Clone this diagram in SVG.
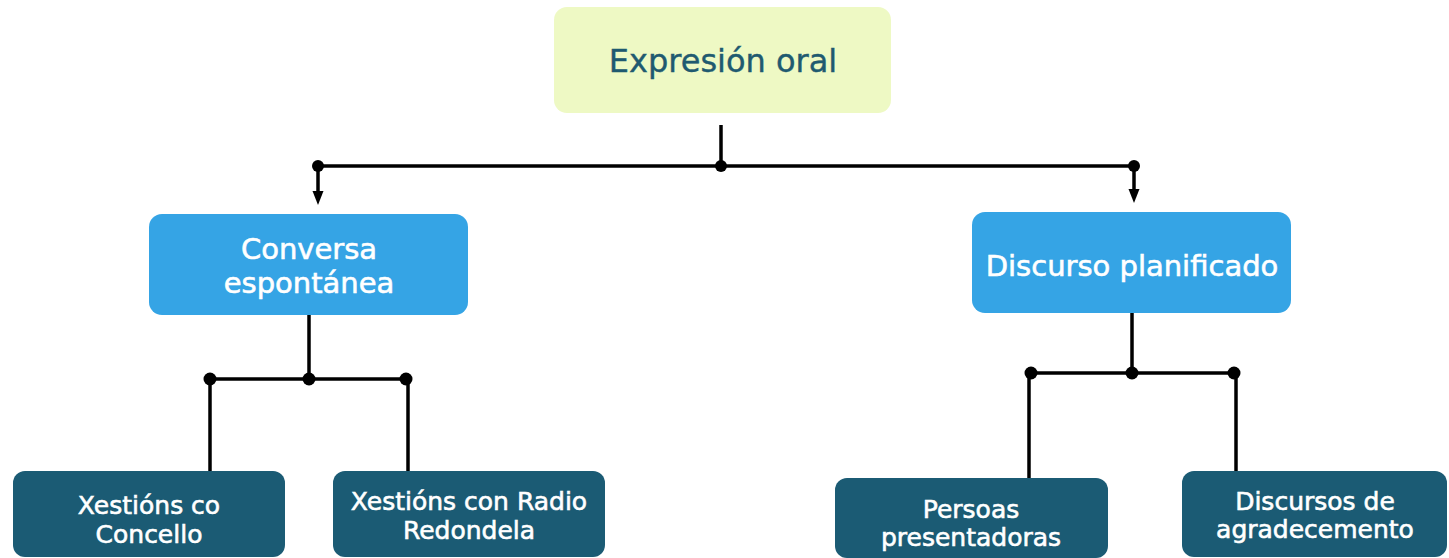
<svg xmlns="http://www.w3.org/2000/svg" width="1449" height="558" viewBox="0 0 1449 558">
<style>
.root{fill:#eef9c4}
.mid{fill:#35a4e5}
.leaf{fill:#1b5b74}
.t{font-family:"DejaVu Sans","Liberation Sans",sans-serif;text-anchor:middle}
.rt{fill:#1f5a70;stroke:#1f5a70;stroke-width:0.4;font-size:32px}
.mt{fill:#ffffff;stroke:#ffffff;stroke-width:0.6;font-size:29px}
.lt{fill:#ffffff;stroke:#ffffff;stroke-width:0.6;font-size:25px}
.ln{stroke:#000;stroke-width:3.5;fill:none}
.dot{fill:#000}
</style>
<rect width="1449" height="558" fill="#ffffff"/>
<g id="connectors">
<line class="ln" x1="721" y1="125" x2="721" y2="166"/>
<line class="ln" x1="318" y1="166" x2="1134" y2="166"/>
<line class="ln" x1="318" y1="166" x2="318" y2="194"/>
<path d="M312.5,191 L323.5,191 L318,205 Z" class="dot"/>
<line class="ln" x1="1134" y1="166" x2="1134" y2="192"/>
<path d="M1128.5,189 L1139.5,189 L1134,203 Z" class="dot"/>
<circle class="dot" cx="318" cy="166" r="6"/>
<circle class="dot" cx="721" cy="166" r="6"/>
<circle class="dot" cx="1134" cy="166" r="6"/>
<line class="ln" x1="309" y1="315" x2="309" y2="379"/>
<line class="ln" x1="210" y1="379" x2="406" y2="379"/>
<line class="ln" x1="210" y1="379" x2="210" y2="471"/>
<line class="ln" x1="408" y1="379" x2="408" y2="471"/>
<circle class="dot" cx="210" cy="379" r="6.5"/>
<circle class="dot" cx="309" cy="379" r="6.5"/>
<circle class="dot" cx="406" cy="379" r="6.5"/>
<line class="ln" x1="1132" y1="313" x2="1132" y2="373"/>
<line class="ln" x1="1031" y1="373" x2="1234" y2="373"/>
<line class="ln" x1="1029" y1="373" x2="1029" y2="478"/>
<line class="ln" x1="1236" y1="373" x2="1236" y2="471"/>
<circle class="dot" cx="1031" cy="373" r="6.5"/>
<circle class="dot" cx="1132" cy="373" r="6.5"/>
<circle class="dot" cx="1234" cy="373" r="6.5"/>
</g>
<g id="node-root">
<rect class="root" x="554" y="7" width="337" height="106" rx="13"/>
<text class="t rt" x="723" y="72">Expresión oral</text>
</g>
<g id="node-conversa">
<rect class="mid" x="149" y="214" width="319" height="101" rx="13"/>
<text class="t mt" x="309" y="259">Conversa</text>
<text class="t mt" x="309" y="293">espontánea</text>
</g>
<g id="node-discurso">
<rect class="mid" x="972" y="212" width="319" height="101" rx="13"/>
<text class="t mt" x="1132" y="276">Discurso planificado</text>
</g>
<g id="node-xestions-concello">
<rect class="leaf" x="13" y="471" width="272" height="86" rx="12"/>
<text class="t lt" x="149" y="514">Xestións co</text>
<text class="t lt" x="149" y="543">Concello</text>
</g>
<g id="node-xestions-radio">
<rect class="leaf" x="333" y="471" width="272" height="86" rx="12"/>
<text class="t lt" x="469" y="510">Xestións con Radio</text>
<text class="t lt" x="469" y="539">Redondela</text>
</g>
<g id="node-persoas">
<rect class="leaf" x="835" y="478" width="273" height="80" rx="12"/>
<text class="t lt" x="971" y="518">Persoas</text>
<text class="t lt" x="971" y="546">presentadoras</text>
</g>
<g id="node-discursos">
<rect class="leaf" x="1182" y="471" width="265" height="86" rx="12"/>
<text class="t lt" x="1315" y="510">Discursos de</text>
<text class="t lt" x="1315" y="538">agradecemento</text>
</g>
</svg>
